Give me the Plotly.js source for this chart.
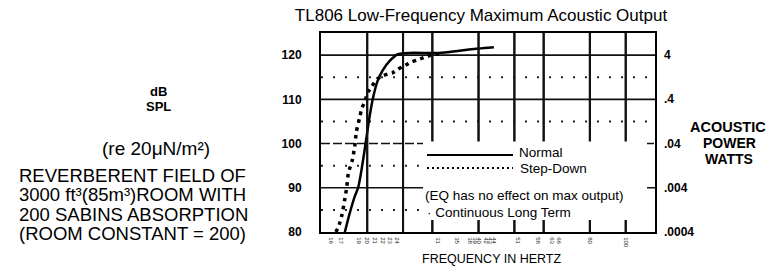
<!DOCTYPE html>
<html><head><meta charset="utf-8">
<script src="https://cdn.plot.ly/plotly-3.0.1.min.js"></script>
<style>html,body{margin:0;padding:0;background:#fff;overflow:hidden}</style>
</head><body><div id="chart" style="width:768px;height:268px"></div>
<script>
// ---- data ----
const normalFreq = [17.4,17.9,18.5,18.9,19.3,19.8,20.2,20.7,21.3,22.0,23.0,24.2,26.0,31.3,35.5,40.1,44.0];
const normalDb   = [80,84,88,90,94,100,105,110,114,116.5,118.7,120.2,120.5,120.5,121,121.5,121.8];
const stepFreq = [16.45,16.7,17.1,17.4,17.6,17.8,18.2,18.5,18.7,19.1,19.3,19.7,20.1,20.6,21.2,21.9,22.7,23.4,24.2,25.1,26.3,27.3,28.6,29.8,31.3];
const stepDb   = [80,81,84,87.5,90,93.5,96,99.3,102.7,106,107.7,109.5,111.6,113,114.5,115.2,115.7,116,116.8,117.5,118.4,118.9,119.5,120,120.3];
const gridFreqs = [20,25,30,40,50,60,80,100];
const solidDbLines = [90,110,120];
const dashedDbLines = [100];
const dottedDbLines = [85,95,105,115];
const leftTickDb = [80,90,100,110,120];
const rightTickDb = [80,90,100,110,120];
const rightTickText = ['.0004','.004','.04','.4','4'];
const xTickVals = [16,17,19,20,21,22,23,24,31,35,38,39,40,42,43,44,51,58,63,66,80,100];
const xTickText = xTickVals.map(String);
const freqRange = [15,120];
const dbRange = [80,125];

const FONT = 'Liberation Sans, Arial, sans-serif';
const px2x = p => (p-321)/334;
const py2y = p => (232-p)/199;
const py2db = p => dbRange[0] + (232-p)*(dbRange[1]-dbRange[0])/199;
const lr = freqRange.map(v => Math.log10(v));

const shapes = [];
solidDbLines.forEach(d => shapes.push({type:'line', layer:'below', xref:'paper', yref:'y',
  x0:0, x1:1, y0:d, y1:d, line:{color:'#111', width:1.6}}));
dashedDbLines.forEach(d => shapes.push({type:'line', layer:'below', xref:'paper', yref:'y',
  x0:0, x1:1, y0:d, y1:d, line:{color:'#111', width:1.5, dash:'9px,3px'}}));
dottedDbLines.forEach(d => shapes.push({type:'line', layer:'below', xref:'paper', yref:'y',
  x0:0, x1:1, y0:d, y1:d, line:{color:'#222', width:2, dash:'2px,10px'}}));
// vertical grid at the frequency values (data coordinates on the log x axis)
gridFreqs.forEach(f => shapes.push({type:'line', xref:'x', yref:'y',
  x0:f, x1:f, y0:dbRange[0], y1:dbRange[1], line:{color:'#111', width:2}}));
// white legend panel covering the grid
shapes.push({type:'rect', layer:'above', xref:'paper', yref:'y',
  x0:px2x(423), x1:px2x(647), y0:py2db(220), y1:py2db(141.5), fillcolor:'#fff', line:{width:0}});
// legend samples
shapes.push({type:'line', layer:'above', xref:'paper', yref:'paper', x0:px2x(427), x1:px2x(513), y0:py2y(155), y1:py2y(155),
  line:{color:'#000', width:2}});
shapes.push({type:'line', layer:'above', xref:'paper', yref:'paper', x0:px2x(427), x1:px2x(513), y0:py2y(168), y1:py2y(168),
  line:{color:'#000', width:2, dash:'2px,3px'}});

const ann = (text, px, py, size, opts={}) => Object.assign({
  text, xref:'paper', yref:'paper', x:px2x(px), y:py2y(py), showarrow:false,
  xanchor:'center', yanchor:'middle', font:{family:FONT, size, color:'#000'}}, opts);
const bold = s => ({font:{family:FONT, size:s, color:'#000', weight:'bold'}});

const annotations = [
  ann('dB', 158, 91, 13, bold(13)),
  ann('SPL', 158, 106, 13, bold(13)),
  ann('(re 20μN/m²)', 156, 148, 19),
  ann('REVERBERENT FIELD OF', 17, 175, 18.5, {xanchor:'left'}),
  ann('3000 ft³(85m³)ROOM WITH', 17, 194.5, 18.5, {xanchor:'left'}),
  ann('200 SABINS ABSORPTION', 17, 214, 18.5, {xanchor:'left'}),
  ann('(ROOM CONSTANT = 200)', 17, 233.5, 18.5, {xanchor:'left'}),
  ann('ACOUSTIC', 728, 127, 14.5, bold(14.5)),
  ann('POWER', 729, 143, 14, bold(14)),
  ann('WATTS', 729, 159, 14, bold(14)),
  ann('FREQUENCY IN HERTZ', 492, 259, 12.5),
  ann('Normal', 517, 152, 13.5, {xanchor:'left'}),
  ann('Step-Down', 518, 168, 13.5, {xanchor:'left'}),
  ann('(EQ has no effect on max output)', 423, 195, 13.5, {xanchor:'left'}),
  ann('· Continuous Long Term', 425, 212, 13.5, {xanchor:'left'})
];
// right-hand acoustic power scale, placed at the dB values it corresponds to
rightTickDb.forEach((d, i) => annotations.push({text:rightTickText[i], xref:'paper', yref:'y',
  x:px2x(662), y:d, xanchor:'left', yanchor:'middle', showarrow:false,
  font:{family:FONT, size:12, color:'#000', weight:'bold'}}));

// vertical grid also as a plain line trace (drawn under the curves)
const gridX = gridFreqs.flatMap(f => [f, f, null]);
const gridY = gridFreqs.flatMap(() => [dbRange[0], dbRange[1], null]);

const traces = [
  {x:gridX, y:gridY, type:'scatter', mode:'lines', line:{color:'#111', width:2}, showlegend:false},
  {x:normalFreq, y:normalDb, type:'scatter', mode:'lines', name:'Normal',
   line:{color:'#000', width:2.5, shape:'spline', smoothing:0.6}, showlegend:false},
  {x:stepFreq, y:stepDb, type:'scatter', mode:'lines', name:'Step-Down',
   line:{color:'#000', width:3.5, dash:'3.5px,4.5px', shape:'spline', smoothing:0.6}, showlegend:false}
];

const layout = {
  width:768, height:268,
  margin:{l:321, r:113, t:33, b:36},
  showlegend:false,
  font:{family:FONT, color:'#000'},
  title:{text:'TL806 Low-Frequency Maximum Acoustic Output', x:481/768, xanchor:'center',
         y:1-15/268, yanchor:'middle', font:{family:FONT, size:17, color:'#000'}},
  xaxis:{type:'log', range:lr.slice(), showgrid:false, zeroline:false,
         showline:true, mirror:true, linecolor:'#000', linewidth:2,
         tickmode:'array', tickvals:xTickVals, ticktext:xTickText, tickangle:90,
         tickfont:{family:FONT, size:6, color:'#222'}, ticks:'', ticklabelstandoff:2, automargin:false},
  yaxis:{range:dbRange.slice(), showgrid:false, zeroline:false, showline:true, mirror:true,
         linecolor:'#000', linewidth:2, tickmode:'array', tickvals:leftTickDb,
         tickfont:{family:FONT, size:12, color:'#000', weight:'bold'}, ticks:'', ticklabelstandoff:15, automargin:false},
  shapes, annotations
};

Plotly.newPlot('chart', traces, layout, {staticPlot:true});
</script></body></html>
